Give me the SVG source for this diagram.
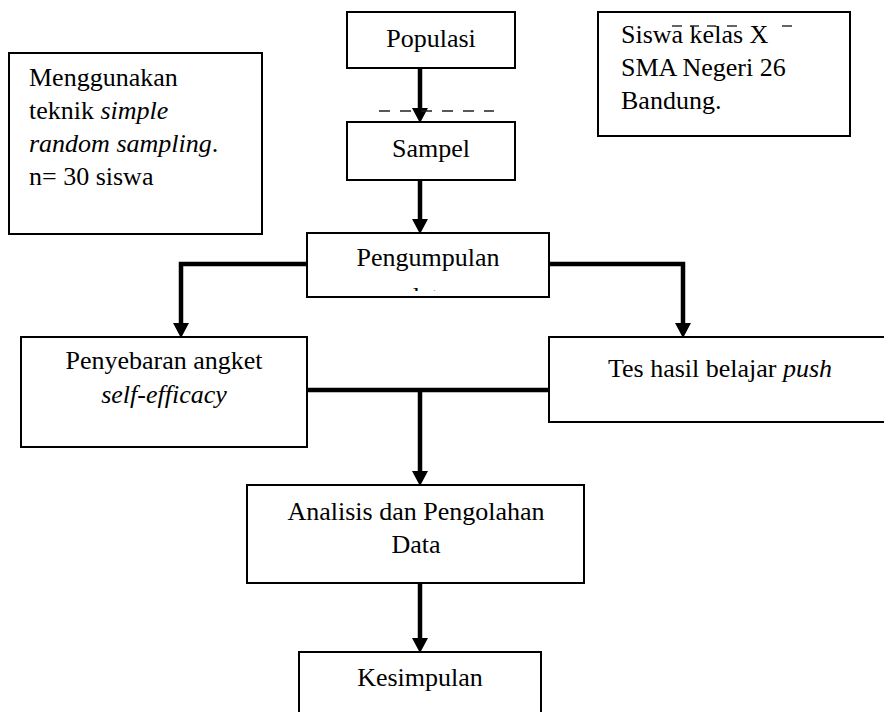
<svg xmlns="http://www.w3.org/2000/svg" width="884" height="712" viewBox="0 0 884 712">
<style>
.box{fill:#fff;stroke:#000;stroke-width:2}
.t{font-family:'Liberation Serif',Tinos,'Times New Roman',Times,'DejaVu Serif',serif;font-size:26px;fill:#000}
.c{text-anchor:middle}
.i{font-style:italic}
.con{fill:none;stroke:#000;stroke-width:4.5}
.dash{stroke:#222;stroke-width:1.4}
</style>
<defs>
<marker id="ah" markerUnits="userSpaceOnUse" markerWidth="16" markerHeight="16" refX="0" refY="7.5" orient="auto" viewBox="0 0 15 15">
<path d="M0,0 L14,7.5 L0,15 z" fill="#000"/>
</marker>
<clipPath id="dataclip"><rect x="300" y="286" width="250" height="5"/></clipPath>
</defs>
<rect width="884" height="712" fill="#fff"/>

<g id="connectors">
<line class="con" x1="420" y1="68" x2="420" y2="108" marker-end="url(#ah)"/>
<line class="con" x1="420" y1="180" x2="420" y2="219" marker-end="url(#ah)"/>
<polyline class="con" points="307,264 181,264 181,323" marker-end="url(#ah)"/>
<polyline class="con" points="549,264 683,264 683,323" marker-end="url(#ah)"/>
<line class="con" x1="307" y1="390" x2="549" y2="390"/>
<line class="con" x1="420" y1="390" x2="420" y2="471" marker-end="url(#ah)"/>
<line class="con" x1="420" y1="583" x2="420" y2="638" marker-end="url(#ah)"/>
</g>

<g id="dashed-line">
<line class="dash" x1="379" y1="111" x2="494" y2="111" stroke-dasharray="11 10"/>
</g>

<g id="populasi">
<rect class="box" x="347" y="12" width="168" height="56"/>
<text class="t c" x="431" y="47" font-family="Liberation Serif">Populasi</text>
</g>

<g id="sampel">
<rect class="box" x="347" y="122" width="168" height="58"/>
<text class="t c" x="431" y="157">Sampel</text>
</g>

<g id="note-left">
<rect class="box" x="9" y="53" width="253" height="181"/>
<text class="t" x="29" y="86">Menggunakan</text>
<text class="t" x="29" y="119">teknik <tspan class="i">simple</tspan></text>
<text class="t" x="29" y="152"><tspan class="i">random sampling</tspan>.</text>
<text class="t" x="29" y="185">n= 30 siswa</text>
</g>

<g id="note-right">
<rect class="box" x="598" y="12" width="252" height="124"/>
<text class="t" x="621" y="43">Siswa kelas X</text>
<text class="t" x="621" y="76">SMA Negeri 26</text>
<text class="t" x="621" y="109">Bandung.</text>
<g stroke="#222" stroke-width="1.4">
<line x1="672" y1="26" x2="682" y2="26"/>
<line x1="690" y1="26" x2="699" y2="26"/>
<line x1="707" y1="26" x2="716" y2="26"/>
<line x1="727" y1="26" x2="737" y2="26"/>
<line x1="782" y1="26" x2="792" y2="26"/>
</g>
</g>

<g id="pengumpulan">
<rect class="box" x="307" y="233" width="242" height="64"/>
<text class="t c" x="428" y="266">Pengumpulan</text>
<text class="t c" x="428" y="305" clip-path="url(#dataclip)">data</text>
</g>

<g id="penyebaran">
<rect class="box" x="21" y="337" width="286" height="110"/>
<text class="t c" x="164" y="369">Penyebaran angket</text>
<text class="t c i" x="164" y="403">self-efficacy</text>
</g>

<g id="tes">
<rect class="box" x="549" y="337" width="345" height="85"/>
<text class="t c" x="720" y="377">Tes hasil belajar <tspan class="i">push</tspan></text>
</g>

<g id="analisis">
<rect class="box" x="247" y="485" width="337" height="98"/>
<text class="t c" x="416" y="520">Analisis dan Pengolahan</text>
<text class="t c" x="416" y="553">Data</text>
</g>

<g id="kesimpulan">
<rect class="box" x="299" y="652" width="242" height="70"/>
<text class="t c" x="420" y="686">Kesimpulan</text>
</g>
</svg>
